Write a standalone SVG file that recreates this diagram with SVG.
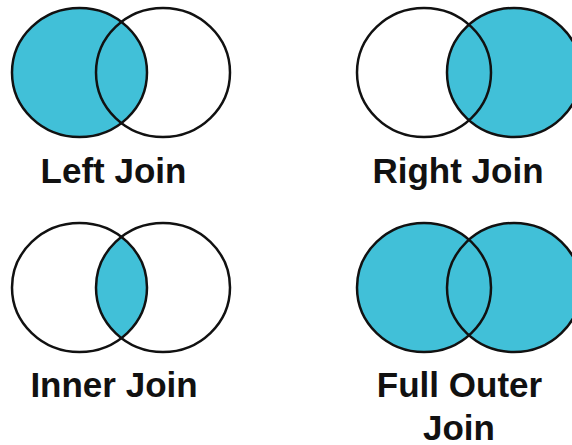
<svg xmlns="http://www.w3.org/2000/svg" width="572" height="445" viewBox="0 0 572 445">
<style>
.o{fill:none;stroke:#111;stroke-width:2.5}
.f{fill:#41C0D8}
.t{font-family:"Liberation Sans",Arial,sans-serif;font-weight:bold;font-size:35px;fill:#111;text-anchor:middle}
</style>
<defs>
<clipPath id="cL1"><ellipse cx="79.5" cy="287.5" rx="67.5" ry="64.5"/></clipPath>
</defs>
<rect width="572" height="445" fill="#fff"/>
<g id="left-join">
<ellipse class="f" cx="79.5" cy="72.5" rx="67.5" ry="64.5"/>
<ellipse class="o" cx="79.5" cy="72.5" rx="67.5" ry="64.5"/>
<ellipse class="o" cx="163" cy="72.5" rx="67" ry="64.5"/>
<text class="t" x="113.5" y="183">Left Join</text>
</g>
<g id="right-join">
<ellipse class="f" cx="514" cy="72.5" rx="67" ry="64.5"/>
<ellipse class="o" cx="424" cy="72.5" rx="67" ry="64.5"/>
<ellipse class="o" cx="514" cy="72.5" rx="67" ry="64.5"/>
<text class="t" x="458" y="183">Right Join</text>
</g>
<g id="inner-join">
<ellipse class="f" cx="163" cy="287.5" rx="67" ry="64.5" clip-path="url(#cL1)"/>
<ellipse class="o" cx="79.5" cy="287.5" rx="67.5" ry="64.5"/>
<ellipse class="o" cx="163" cy="287.5" rx="67" ry="64.5"/>
<text class="t" x="114" y="397">Inner Join</text>
</g>
<g id="full-outer-join">
<ellipse class="f" cx="424" cy="287.5" rx="67" ry="64.5"/>
<ellipse class="f" cx="514" cy="287.5" rx="67" ry="64.5"/>
<ellipse class="o" cx="424" cy="287.5" rx="67" ry="64.5"/>
<ellipse class="o" cx="514" cy="287.5" rx="67" ry="64.5"/>
<text class="t" x="459.5" y="397">Full Outer</text>
<text class="t" x="459" y="440">Join</text>
</g>
<g id="connectors"/>
</svg>
